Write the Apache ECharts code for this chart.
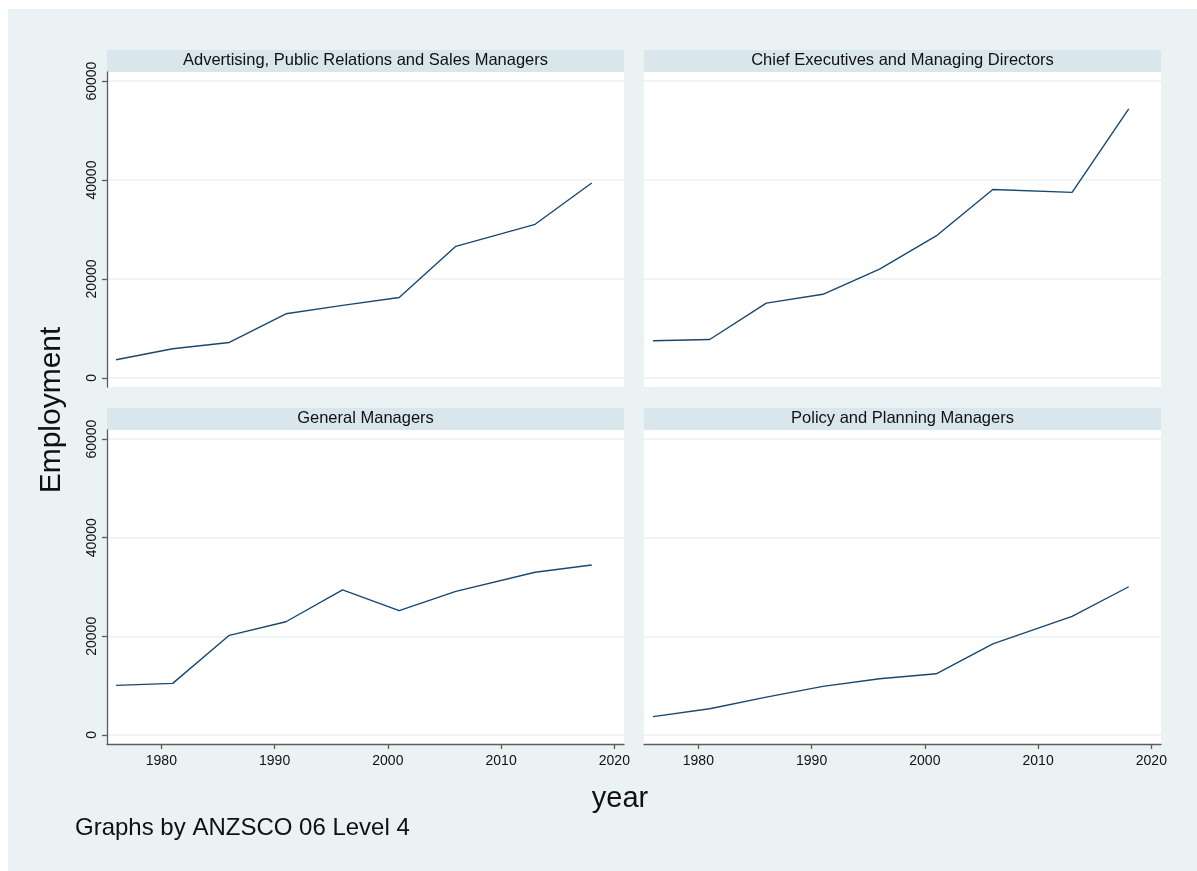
<!DOCTYPE html>
<html>
<head>
<meta charset="utf-8">
<script src="https://cdn.jsdelivr.net/npm/echarts@6/dist/echarts.min.js"></script>
<style>
  html, body { margin: 0; padding: 0; background: #ffffff; }
  #chart { width: 1197px; height: 871px; }
</style>
</head>
<body>
<div id="chart"></div>
<script>
// Employment by occupation (ANZSCO 06 Level 4), census years
const years = [1976, 1981, 1986, 1991, 1996, 2001, 2006, 2013, 2018];
const panelTitles = [
  'Advertising, Public Relations and Sales Managers',
  'Chief Executives and Managing Directors',
  'General Managers',
  'Policy and Planning Managers'
];
const advertisingManagers = [3650, 5880, 7150, 12950, 14650, 16250, 26600, 31050, 39400];
const chiefExecutives     = [7500, 7750, 15100, 16900, 22000, 28700, 38100, 37500, 54400];
const generalManagers     = [10050, 10450, 20200, 22950, 29400, 25200, 29100, 33000, 34450];
const policyPlanning      = [3700, 5300, 7650, 9850, 11400, 12400, 18450, 24050, 30050];
const yTicks = [0, 20000, 40000, 60000];
const xTicks = [1980, 1990, 2000, 2010, 2020];
const yTitle = 'Employment';
const xTitle = 'year';
const noteText = 'Graphs by ANZSCO 06 Level 4';

const panelValues = [advertisingManagers, chiefExecutives, generalManagers, policyPlanning];

const FONT = "'Liberation Sans', Arial, sans-serif";
const BG = '#eaf2f3';
const STRIP = '#d9e6eb';
const LINE = '#1a476f';
const AXIS = '#5c5c5c';

// panel layout: [left, top, width, height]
const panels = [
  [107, 72, 517, 315],
  [644, 72, 517, 315],
  [107, 430, 517, 314],
  [644, 430, 517, 314]
];
const STRIP_H = 22;

const chart = echarts.init(document.getElementById('chart'), null, { renderer: 'canvas' });

const grids = [], xAxes = [], yAxes = [], series = [], titles = [], graphics = [];
const plain = v => String(v);

graphics.push({
  type: 'rect', left: 8, top: 9, z: -10,
  shape: { width: 1189, height: 862 },
  style: { fill: BG }
});

panels.forEach((p, i) => {
  const [l, t, w, h] = p;
  const isLeft = i % 2 === 0;
  const isBottom = i >= 2;

  grids.push({
    left: l, top: t, width: w, height: h,
    show: true, backgroundColor: '#ffffff', borderWidth: 0
  });

  graphics.push({
    type: 'rect', left: l, top: t - STRIP_H, z: -5,
    shape: { width: w, height: STRIP_H },
    style: { fill: STRIP }
  });

  titles.push({
    text: panelTitles[i],
    left: l + w / 2, top: t - STRIP_H + 2,
    textAlign: 'center',
    padding: 0,
    textStyle: { fontFamily: FONT, fontSize: 16.5, fontWeight: 'normal', color: '#111111' }
  });

  xAxes.push({
    type: 'value', gridIndex: i,
    min: 1975.2, max: 2020.85,
    axisLine: { show: isBottom, onZero: false, lineStyle: { color: AXIS, width: 1.3 } },
    axisTick: { show: isBottom, length: 5, customValues: xTicks, lineStyle: { color: AXIS, width: 1.3 } },
    axisLabel: {
      show: isBottom, customValues: xTicks, margin: 10, formatter: plain,
      fontFamily: FONT, fontSize: 14, color: '#111111'
    },
    splitLine: { show: false }
  });

  yAxes.push({
    type: 'value', gridIndex: i,
    min: -1850, max: 61850,
    axisLine: { show: isLeft, onZero: false, lineStyle: { color: AXIS, width: 1.3 } },
    axisTick: { show: isLeft, length: 5, customValues: yTicks, lineStyle: { color: AXIS, width: 1.3 } },
    axisLabel: {
      show: isLeft, customValues: yTicks, rotate: 90, margin: 8, formatter: plain,
      fontFamily: FONT, fontSize: 14, color: '#111111'
    },
    splitLine: { show: true, lineStyle: { color: BG, width: 1.5 } }
  });

  series.push({
    type: 'line', xAxisIndex: i, yAxisIndex: i,
    data: years.map((yr, k) => [yr, panelValues[i][k]]),
    showSymbol: false, symbol: 'none',
    lineStyle: { color: LINE, width: 1.4 },
    animation: false
  });
});

graphics.push({
  type: 'text', x: 52, y: 410, rotation: Math.PI / 2,
  style: {
    text: yTitle, fontFamily: FONT, fontSize: 30, fill: '#111111',
    textAlign: 'center', textVerticalAlign: 'middle'
  }
});

const option = {
  backgroundColor: '#ffffff',
  animation: false,
  title: titles.concat([
    {
      text: xTitle, left: 620, top: 784, textAlign: 'center', padding: 0,
      textStyle: { fontFamily: FONT, fontSize: 29, fontWeight: 'normal', color: '#111111' }
    },
    {
      text: noteText, left: 75, top: 816, padding: 0,
      textStyle: { fontFamily: FONT, fontSize: 24, fontWeight: 'normal', color: '#111111' }
    }
  ]),
  grid: grids,
  xAxis: xAxes,
  yAxis: yAxes,
  series: series,
  graphic: { elements: graphics }
};

chart.setOption(option);
</script>
</body>
</html>
